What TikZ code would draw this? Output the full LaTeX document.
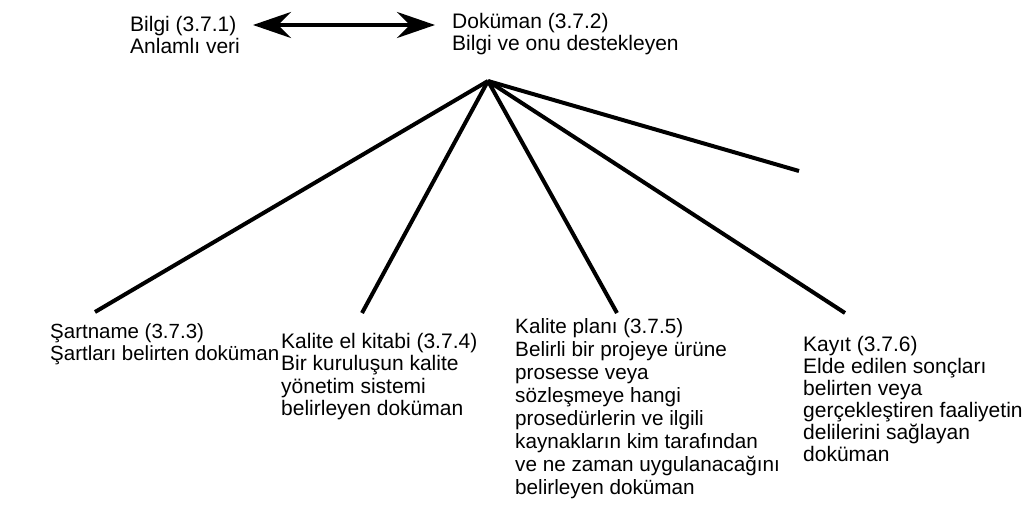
\documentclass[tikz,border=0pt]{standalone}
\usepackage{fontspec}
\setmainfont{Liberation Sans}
\usetikzlibrary{arrows.meta}
\begin{document}
\begin{tikzpicture}[x=1pt,y=-1pt,
  txt/.style={anchor=north west,inner sep=0pt,align=left,
    font=\fontsize{21}{22.5}\selectfont},
  branch/.style={line width=4pt},
  tip/.tip={Stealth[length=38pt,width=26pt,inset=13pt]},
  link/.style={line width=4pt,tip-tip}]
\useasboundingbox (0,0) rectangle (1026,508);
% text blocks
\node[txt] (bilgi) at (130,16) {Bilgi (3.7.1)\\Anlamlı veri};
\node[txt] (dok) at (452,13) {Doküman (3.7.2)\\Bilgi ve onu destekleyen};
\node[txt,font=\fontsize{20.5}{22.5}\selectfont] (sart) at (50,323) {Şartname (3.7.3)\\Şartları belirten doküman};
\node[txt] (kek) at (281,333) {Kalite el kitabi (3.7.4)\\Bir kuruluşun kalite\\yönetim sistemi\\belirleyen doküman};
\node[txt,font=\fontsize{20.7}{23}\selectfont] (kp) at (515,318) {Kalite planı (3.7.5)\\Belirli bir projeye ürüne\\prosesse veya\\sözleşmeye hangi\\prosedürlerin ve ilgili\\kaynakların kim tarafından\\ve ne zaman uygulanacağını\\belirleyen doküman};
\node[txt,font=\fontsize{21}{22}\selectfont] (kay) at (803,336) {Kayıt (3.7.6)\\Elde edilen sonçları\\belirten veya\\gerçekleştiren faaliyetin\\delilerini sağlayan\\doküman};
% connector points
\coordinate (al) at (253,25);
\coordinate (ar) at (435,25);
\coordinate (apex) at (488,81);
\coordinate (e1) at (95,312);
\coordinate (e2) at (362,313);
\coordinate (e3) at (617,313);
\coordinate (e4) at (845,313);
\coordinate (e5) at (799,171);
% double arrow
\draw[link] (al) -- (ar);
% fan
\draw[branch] (apex) -- (e1);
\draw[branch] (apex) -- (e2);
\draw[branch] (apex) -- (e3);
\draw[branch] (apex) -- (e4);
\draw[branch] (apex) -- (e5);
\end{tikzpicture}
\end{document}
